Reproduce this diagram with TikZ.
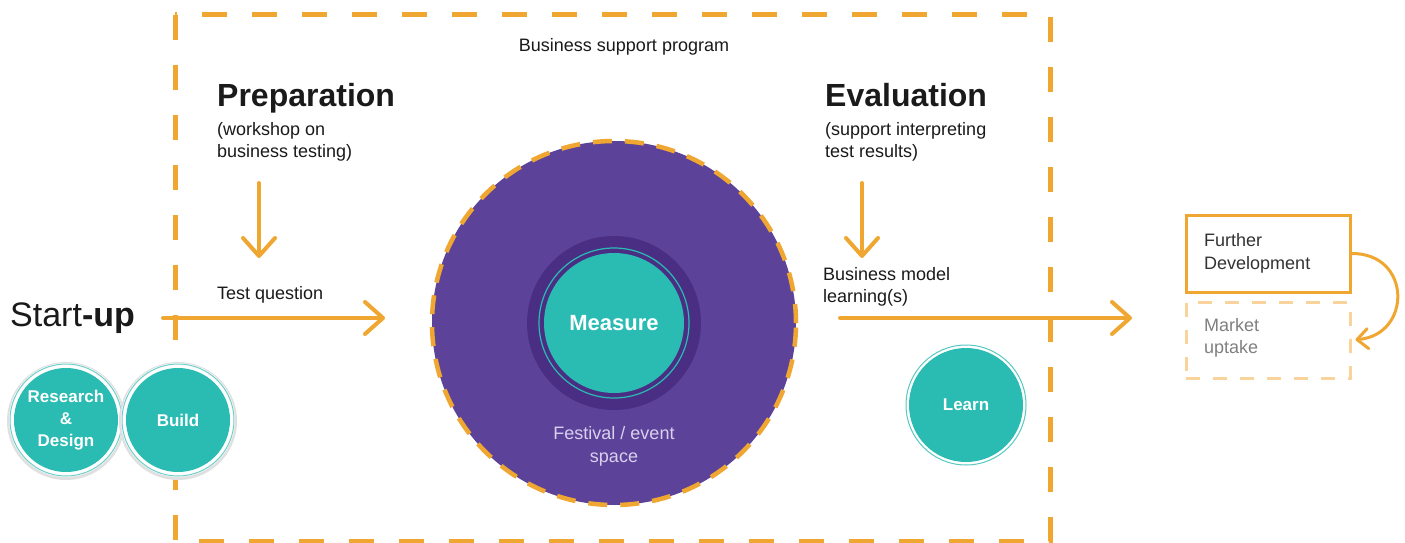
\documentclass[tikz,border=0pt]{standalone}
\usepackage{fontspec}
\setmainfont{Liberation Sans}
\usetikzlibrary{arrows.meta}
\definecolor{org}{HTML}{F0A732}
\definecolor{orgl}{HTML}{F8D49C}
\definecolor{tealc}{HTML}{2ABBB3}
\definecolor{purp}{HTML}{5C4399}
\definecolor{dpurp}{HTML}{4A2E84}
\definecolor{txt}{HTML}{1A1A1A}
\definecolor{lav}{HTML}{D8D0EE}
\begin{document}
\begin{tikzpicture}[x=1pt,y=-1pt,
  arr/.style={draw=org, line width=4pt, line cap=round,
    -{Straight Barb[length=18pt,width=32pt,line width=4pt,round]}},
  lbl/.style={anchor=west, align=left, text=txt, font=\fontsize{18}{22.5}\selectfont, inner sep=0pt},
  head/.style={anchor=base west, text=txt, font=\fontsize{32}{36}\selectfont\bfseries, inner sep=0pt},
  tcirc/.style={circle, fill=tealc, text=white, font=\fontsize{17}{22}\selectfont\bfseries, align=center, inner sep=0pt},
]
\useasboundingbox (0,0) rectangle (1405,543);
\fill[white] (0,0) rectangle (1405,543);

% program frame
\draw[org, line width=5pt, dash pattern=on 25pt off 25pt] (175,15) rectangle (1050,541);
\node[inner sep=0pt, text=txt, font=\fontsize{18}{22}\selectfont] (bsp) at (624,47) {Business support program};

% Preparation
\node[head] (prep) at (217,106) {Preparation};
\node[lbl] (prepsub) at (217,142) {(workshop on\\business testing)};
\coordinate (pa1) at (259,183);
\coordinate (pa2) at (259,258);
\draw[arr] (pa1) -- (pa2);
\node[lbl] (tq) at (217,295) {Test question};
\coordinate (ta1) at (163,318);
\coordinate (ta2) at (385,318);
\draw[arr] (ta1) -- (ta2);

% Start-up
\node[anchor=west, inner sep=0pt, text=txt, font=\fontsize{34}{38}\selectfont] (su) at (10,318) {Start\textbf{-up}};

% Research & Design, Build
\foreach \cx/\nm/\tx in {66/rd/{Research\\\&\\Design}, 178/bd/{Build}}{
  \fill[black!12] (\cx,421) circle (59pt);
  \fill[white] (\cx,420) circle (57pt);
  \draw[tealc!70, line width=1pt] (\cx,420) circle (56pt);
  \node[tcirc, minimum size=104pt] (\nm) at (\cx,420) {\tx};
}

% Festival circle
\node[circle, fill=purp, draw=org, line width=4.5pt, dash pattern=on 19pt off 13pt, minimum size=364pt, inner sep=0pt] (fest) at (614,323) {};
\fill[dpurp] (fest.center) circle (87pt);
\draw[tealc, line width=1.2pt] (fest.center) circle (75pt);
\node[tcirc, minimum size=140pt, font=\fontsize{22}{26}\selectfont\bfseries] (meas) at (614,323) {Measure};
\node[inner sep=0pt, text=lav, align=center, font=\fontsize{18}{23}\selectfont] (festl) at (614,446) {Festival / event\\space};

% Evaluation
\node[head] (eval) at (825,106) {Evaluation};
\node[lbl] (evalsub) at (825,142) {(support interpreting\\test results)};
\coordinate (ea1) at (862,183);
\coordinate (ea2) at (862,258);
\draw[arr] (ea1) -- (ea2);
\node[lbl] (bml) at (823,287) {Business model\\learning(s)};
\coordinate (ba1) at (840,318);
\coordinate (ba2) at (1132,318);
\draw[arr] (ba1) -- (ba2);

% Learn
\fill[white] (966,405) circle (60pt);
\draw[tealc!80, line width=1pt] (966,405) circle (60pt);
\node[tcirc, minimum size=114pt] (learn) at (966,405) {Learn};

% Further development / Market uptake
\node[draw=org, line width=3pt, minimum width=164pt, minimum height=77pt, inner sep=0pt] (fd) at (1268,253.5) {};
\node[lbl, text=black!80] (fdt) at (1204,253.5) {Further\\Development};
\node[draw=orgl, line width=3pt, dash pattern=on 14pt off 13pt, minimum width=164pt, minimum height=76pt, inner sep=0pt] (mu) at (1268,340) {};
\node[lbl, text=black!50] (mut) at (1204,338) {Market\\uptake};
\draw[draw=org, line width=3pt, line cap=round, shorten >=4pt,
  -{Straight Barb[length=11pt,width=20pt,line width=3pt,round]}]
  (fd.east) .. controls (1412,253) and (1412,335) .. (mu.east);
\end{tikzpicture}
\end{document}
